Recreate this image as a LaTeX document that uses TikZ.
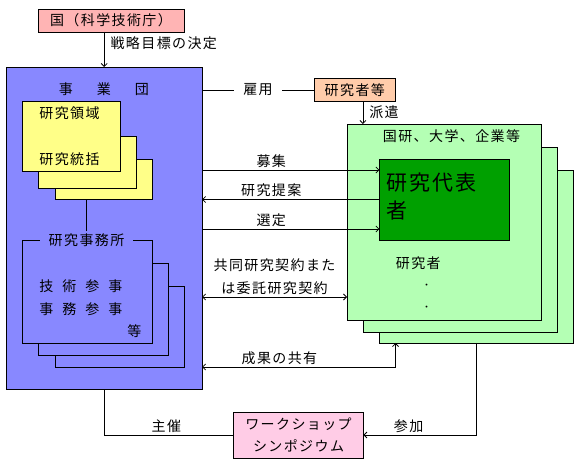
\documentclass[tikz,border=0pt]{standalone}
\usepackage{fontspec}
\setmainfont{Noto Sans CJK JP}[LetterSpace=10]
\usetikzlibrary{arrows.meta}
\definecolor{kunipink}{RGB}{255,180,180}
\definecolor{jigyoblue}{RGB}{136,136,255}
\definecolor{ryoikiyellow}{RGB}{255,255,136}
\definecolor{kenpeach}{RGB}{255,204,170}
\definecolor{kenlgreen}{RGB}{180,255,180}
\definecolor{daihyogreen}{RGB}{0,160,0}
\definecolor{wspink}{RGB}{255,204,230}
\newcommand\jgap[1]{\hspace{#1pt}}

\begin{document}
\begin{tikzpicture}[x=1pt,y=-1pt,line width=0.8pt,
  font=\fontsize{14}{17}\selectfont,
  box/.style={draw,inner sep=0pt,outer sep=0pt},
  lbl/.style={inner sep=2pt},
  >={Straight Barb[length=3pt,width=6pt]}]
  \useasboundingbox (0,0) rectangle (582,468);

  % government and jigyodan
  \node[box,fill=kunipink,minimum width=146pt,minimum height=23pt] (kuni) at (111,20.5) {国（科学技術庁）};
  \node[box,fill=jigyoblue,minimum width=195.7pt,minimum height=322pt] (jigyo) at (104.2,228) {};
  \node[lbl] (jigyoname) at (104,89) {事\jgap{24}業\jgap{24}団};
  \draw[->] (jigyo.north |- kuni.south) -- (jigyo.north)
    node[lbl,pos=0.33,right=4pt] (senryaku) {戦略目標の決定};

  % research areas
  \node[box,fill=ryoikiyellow,minimum width=96.8pt,minimum height=40pt] (ryoiki3) at (103.6,179) {};
  \node[box,fill=ryoikiyellow,minimum width=98.2pt,minimum height=52pt] (ryoiki2) at (87.5,162) {};
  \node[box,fill=ryoikiyellow,minimum width=97.6pt,minimum height=70pt] (ryoiki1) at (71.2,136) {};
  \node[lbl,anchor=west] (ryoiki) at (37,113) {研究領域};
  \node[lbl,anchor=west] (tokatsu) at (37,159) {研究統括};

  % research office
  \node[box,fill=jigyoblue,minimum width=129pt,minimum height=81pt] (jimu3) at (119.5,326.5) {};
  \node[box,fill=jigyoblue,minimum width=129.6pt,minimum height=92pt] (jimu2) at (103.2,309) {};
  \node[box,fill=jigyoblue,minimum width=129.6pt,minimum height=103pt] (jimu1) at (87.2,291.5) {};
  \node[lbl,fill=jigyoblue,inner xsep=9pt] (jimusho) at (86.5,240) {研究事務所};
  \draw (jimusho.north) -- (jimusho.north |- ryoiki3.south);
  \node[lbl,anchor=west] (gijutsu) at (37,286) {技\jgap{9}術\jgap{9}参\jgap{9}事};
  \node[lbl,anchor=west] (jimuin) at (37,309) {事\jgap{9}務\jgap{9}参\jgap{9}事};
  \node[lbl,anchor=west] (nado) at (125,331) {等};

  % researchers
  \node[box,fill=kenpeach,minimum width=81.5pt,minimum height=22.5pt] (kenkyusha) at (354.8,90) {研究者等};
  \draw (jigyo.east |- kenkyusha.west) -- (kenkyusha.west)
    node[lbl,midway,fill=white,inner xsep=9pt] (koyo) {雇用};

  % institutions
  \node[box,fill=kenlgreen,minimum width=194pt,minimum height=173pt] (green3) at (476.5,256.5) {};
  \node[box,fill=kenlgreen,minimum width=194.5pt,minimum height=185pt] (green2) at (460.2,239.5) {};
  \node[box,fill=kenlgreen,minimum width=194pt,minimum height=196pt] (green1) at (444,222) {};
  \node[lbl] (kikan) at (451.5,136) {国研、大学、企業等};
  \node[box,fill=daihyogreen,minimum width=129.5pt,minimum height=81pt] (daihyo) at (444.2,199.5) {};
  \node[anchor=north west,align=left,inner sep=0pt,font=\fontsize{21}{28}\selectfont] (daihyoname) at (386,172) {研究代表\\者};
  \node[lbl,anchor=west] (kenkyuin) at (393.5,263) {研究者};
  \node[inner sep=0pt,font=\fontsize{9}{9}\selectfont] (dot1) at (426.5,286) {・};
  \node[inner sep=0pt,font=\fontsize{9}{9}\selectfont] (dot2) at (426.5,308) {・};
  \draw[->] (green2.north west |- kenkyusha.south) -- (green2.north west |- green1.north)
    node[lbl,midway,right=4pt] (haken) {派遣};

  % between jigyodan and institutions
  \draw[->] ([yshift=29.5pt]daihyo.west -| jigyo.east) -- ([yshift=29.5pt]daihyo.west)
    node[lbl,pos=0.39,above] (bosyu) {募集};
  \draw[->] (daihyo.west) -- (daihyo.west -| jigyo.east)
    node[lbl,pos=0.61,above] (teian) {研究提案};
  \draw[->] ([yshift=-29.5pt]daihyo.west -| jigyo.east) -- ([yshift=-29.5pt]daihyo.west)
    node[lbl,pos=0.39,above] (sentei) {選定};
  \draw[<->] ([yshift=-75pt]green1.west -| jigyo.east) -- ([yshift=-75pt]green1.west)
    node[lbl,midway,above,align=center,font=\fontsize{14}{23}\selectfont] (keiyaku) {共同研究契約また\\は委託研究契約};
  \draw[<->] ([xshift=16pt]green3.south west) |- (jimu3.south -| jigyo.east)
    node[lbl,pos=0.8,above] (seika) {成果の共有};

  % workshop
  \node[box,fill=wspink,minimum width=129.8pt,minimum height=46pt,align=center,font=\fontsize{14}{22}\selectfont] (workshop) at (298.5,435) {ワークショップ\\シンポジウム};
  \draw (jigyo.south) |- (workshop.west) node[lbl,pos=0.74,above] (shusai) {主催};
  \draw[->] (green3.south) |- (workshop.east) node[lbl,pos=0.8,above] (sanka) {参加};
\end{tikzpicture}
\end{document}
